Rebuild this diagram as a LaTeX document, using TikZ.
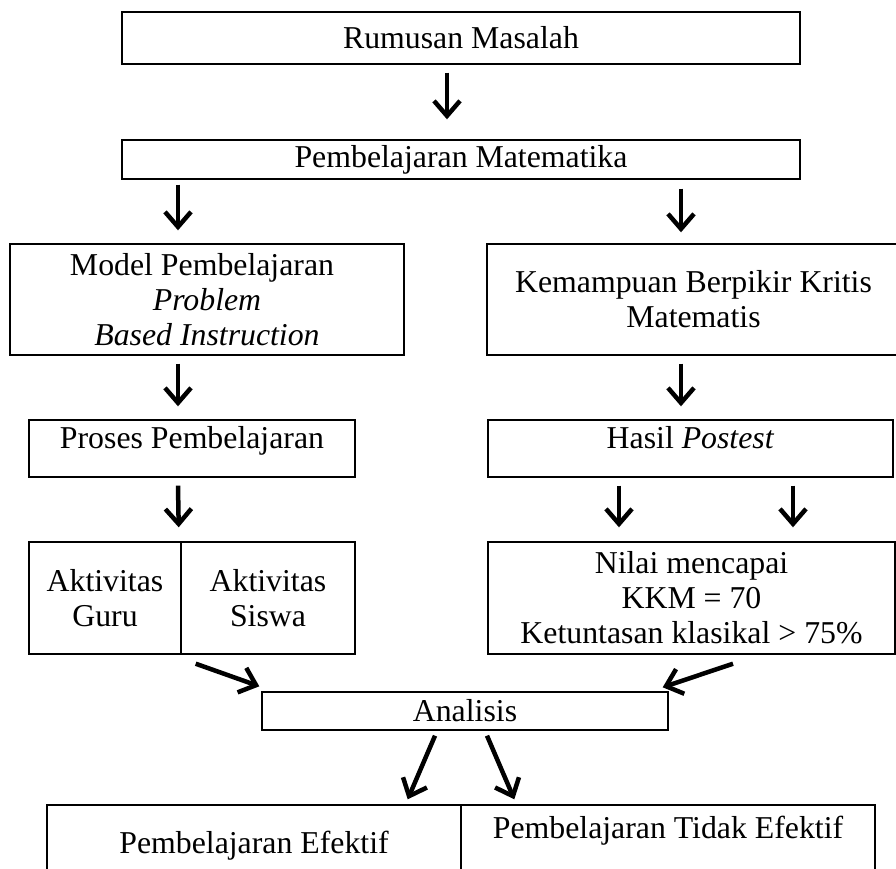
\documentclass[tikz,border=0pt]{standalone}
\usepackage{fontspec}
\setmainfont{Liberation Serif}
\usetikzlibrary{arrows.meta,calc}
\tikzset{
  box/.style={draw, line width=1.4pt, rectangle, inner sep=0pt, align=center,
    font=\fontsize{31.8}{35}\selectfont},
  arr/.style={line width=4.5pt, -{Straight Barb[length=15pt,width=26pt]}},
}
\begin{document}
\begin{tikzpicture}[x=1pt,y=-1pt]
\useasboundingbox (0,0) rectangle (896,869);
\clip (0,0) rectangle (896,869);

\node[box, minimum width=678pt, minimum height=52pt] (rm) at (461,38) {Rumusan Masalah};
\node[box, minimum width=678pt, minimum height=39pt] (pm) at (461,159.5) {Pembelajaran Matematika};
\node[box, minimum width=394pt, minimum height=111pt] (model) at (207,299.5)
  {Model Pembelajaran\hspace*{10pt}\\\textit{Problem}\hspace*{10pt}\\\textit{Based Instruction}};
\node[box, minimum width=413pt, minimum height=111pt] (kem) at (693.5,299.5)
  {Kemampuan Berpikir Kritis\\Matematis};
\node[box, minimum width=326pt, minimum height=57pt, text height=22pt, text depth=23pt] (proses) at (192,448.5) {Proses Pembelajaran};
\node[box, minimum width=405pt, minimum height=57pt, text height=22pt, text depth=23pt] (hasil) at (690.5,448.5) {Hasil \textit{Postest}};
\node[box, minimum width=152pt, minimum height=112pt] (guru) at (105,598) {Aktivitas\\Guru};
\node[box, minimum width=174pt, minimum height=112pt] (siswa) at (268,598) {Aktivitas\\Siswa};
\node[box, minimum width=407pt, minimum height=112pt] (nilai) at (691.5,598)
  {Nilai mencapai\\KKM = 70\\Ketuntasan klasikal > 75\%};
\node[box, minimum width=406pt, minimum height=38pt] (an) at (465,711) {Analisis};
\node[box, minimum width=414pt, minimum height=100pt, text height=22pt, text depth=26pt] (eff) at (254,855) {Pembelajaran Efektif};
\node[box, minimum width=414pt, minimum height=100pt, text height=22pt, text depth=56pt] (neff) at (668,855) {Pembelajaran Tidak Efektif};

\draw[arr] ($(rm.south)+(-14,8)$) -- ($(pm.north)+(-14,-20)$);
\draw[arr] ($(pm.south -| model.north)+(-29,5)$) -- ($(model.north)+(-29,-13)$);
\draw[arr] ($(pm.south -| kem.north)+(-12.5,9)$) -- ($(kem.north)+(-12.5,-11)$);
\draw[arr] ($(model.south)+(-29,8)$) -- ($(proses.north)+(-14,-13)$);
\draw[arr] ($(kem.south)+(-12.5,8)$) -- ($(hasil.north)+(-9.5,-13)$);
\draw[arr] ($(proses.south)+(-14,8)$) -- ($(guru.north east)+(-3,-14)$);
\draw[arr] ($(hasil.south)+(-71.5,8)$) -- ($(nilai.north)+(-72.5,-14)$);
\draw[arr] ($(hasil.south)+(102.5,8)$) -- ($(nilai.north)+(101.5,-14)$);
\draw[arr] ($(guru.south east)+(14,9)$) -- ($(an.north west)+(-2,-5)$);
\draw[arr] ($(nilai.south)+(41.5,9)$) -- ($(an.north east)+(-6,-4)$);
\draw[arr] ($(an.south)+(-30,5)$) -- ($(eff.north east)+(-54,-5)$);
\draw[arr] ($(an.south)+(22,5)$) -- ($(neff.north west)+(54,-5)$);
\end{tikzpicture}
\end{document}
